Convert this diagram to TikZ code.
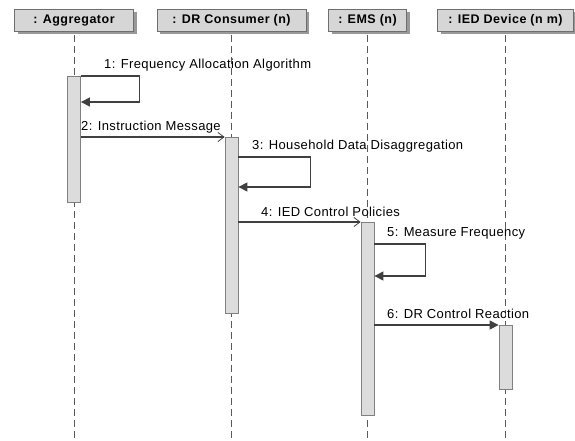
\documentclass[tikz,border=0pt]{standalone}
\usepackage{fontspec}
\setmainfont[LetterSpace=3]{Liberation Sans}
\newfontfamily\headfont[LetterSpace=4]{Liberation Sans}
\usetikzlibrary{arrows.meta,shadows}
\definecolor{boxFill}{HTML}{D6D6D6}
\definecolor{barFill}{HTML}{DCDCDC}
\definecolor{edgeGray}{HTML}{6E6E6E}
\definecolor{msgGray}{HTML}{404040}
\begin{document}
\begin{tikzpicture}
[x=1pt,y=-1pt,
  headBox/.style={shape=rectangle,draw=edgeGray,fill=boxFill,thick,
    minimum height=22pt,inner sep=0pt,anchor=north,
    font=\headfont\fontsize{12.5}{14}\selectfont\bfseries,
    drop shadow={shadow xshift=3pt,shadow yshift=-3pt,fill=black!40,opacity=1}},
  lifeLine/.style={draw=black!65,thin,dash pattern=on 7pt off 4pt},
  actBar/.style={shape=rectangle,draw=black!50,fill=barFill,thick,
    minimum width=13pt,inner sep=0pt,anchor=north},
  msgLine/.style={draw=msgGray,line width=1.1pt},
  syncTip/.style={-{Triangle[length=9pt,width=9pt]}},
  openTip/.style={-{Straight Barb[length=6pt,width=9pt,line width=0.8pt]}},
  msgLabel/.style={anchor=west,inner sep=0pt,font=\fontsize{13}{15}\selectfont}]
\useasboundingbox (0,0) rectangle (575,441);
\coordinate (bottom) at (0,441);
%% lifelines with their heads
\foreach \name/\x/\w/\txt in {
  agg/74/119/{: Aggregator}, drc/231.5/149/{: DR Consumer (n)},
  ems/367.5/78/{: EMS (n)}, ied/505.5/136/{: IED Device (n m)}}
{
  \node (\name) at (\x,9) [headBox,minimum width=\w pt] {\txt};
  \draw[lifeLine] ([yshift=-3pt]\name.south) -- (\name.south |- bottom);
}
%% activation bars
\foreach \name/\x/\top/\bot in {
  aggBar/74/76/202, drcBar/231.5/137/313,
  emsBar/367.5/222/415, iedBar/505.5/325/389}
{
  \node (\name) at (\x,\top) [actBar,minimum height=\bot pt-\top pt] {};
}
%% messages
\draw[msgLine,syncTip] (aggBar.north east) -- ++(59,0)
  |- ([yshift=-26pt]aggBar.north east);
\node (m1) at (104,65) [msgLabel] {1: Frequency Allocation Algorithm};
\draw[msgLine,openTip] (aggBar.east |- drcBar.north) -- (drcBar.north west);
\node (m2) at (81,127) [msgLabel] {2: Instruction Message};
\draw[msgLine,syncTip] ([yshift=-20pt]drcBar.north east) -- ++(72,0)
  |- ([yshift=-50pt]drcBar.north east);
\node (m3) at (252,146) [msgLabel] {3: Household Data Disaggregation};
\draw[msgLine,openTip] (drcBar.east |- emsBar.north) -- (emsBar.north west);
\node (m4) at (261,212) [msgLabel] {4: IED Control Policies};
\draw[msgLine,syncTip] ([yshift=-22pt]emsBar.north east) -- ++(51,0)
  |- ([yshift=-54pt]emsBar.north east);
\node (m5) at (387,233) [msgLabel] {5: Measure Frequency};
\draw[msgLine,syncTip] (emsBar.east |- iedBar.north) -- (iedBar.north west);
\node (m6) at (387,314) [msgLabel] {6: DR Control Reaction};
\end{tikzpicture}
\end{document}
